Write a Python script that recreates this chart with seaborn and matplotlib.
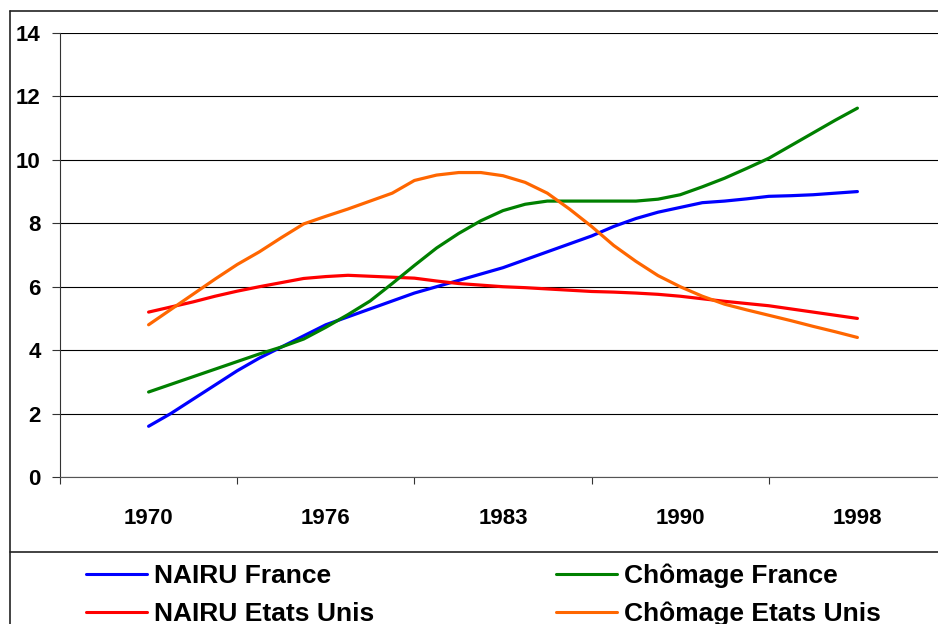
import numpy as np
import pandas as pd
import matplotlib
matplotlib.use('Agg')
import matplotlib.pyplot as plt
from matplotlib.lines import Line2D
import seaborn as sns

# category labels, one every 8 points (33 points from 1970 to 1998)
years = ['1970', '1976', '1983', '1990', '1998']
label_step = 8

nairu_france = [1.6, 2.0, 2.45, 2.9, 3.35, 3.75, 4.1, 4.45, 4.8, 5.05, 5.3,
                5.55, 5.8, 6.0, 6.2, 6.4, 6.6, 6.85, 7.1, 7.35, 7.6, 7.9,
                8.15, 8.35, 8.5, 8.65, 8.7, 8.77, 8.85, 8.87, 8.9, 8.95, 9.0]
chomage_france = [2.68, 2.92, 3.16, 3.4, 3.64, 3.88, 4.1, 4.35, 4.72, 5.12, 5.55,
                  6.1, 6.67, 7.22, 7.68, 8.08, 8.4, 8.6, 8.7, 8.7, 8.7, 8.7,
                  8.7, 8.76, 8.9, 9.15, 9.42, 9.73, 10.05, 10.45, 10.85, 11.25, 11.63]
nairu_eu = [5.2, 5.36, 5.52, 5.7, 5.86, 6.0, 6.13, 6.26, 6.32, 6.36, 6.33,
            6.3, 6.27, 6.18, 6.1, 6.05, 6.0, 5.97, 5.93, 5.89, 5.85, 5.83,
            5.8, 5.76, 5.7, 5.62, 5.54, 5.47, 5.4, 5.3, 5.2, 5.1, 5.0]
chomage_eu = [4.8, 5.28, 5.76, 6.24, 6.7, 7.1, 7.55, 7.98, 8.22, 8.45, 8.7,
              8.95, 9.35, 9.52, 9.6, 9.6, 9.5, 9.29, 8.95, 8.45, 7.9, 7.3,
              6.8, 6.35, 6.0, 5.7, 5.45, 5.27, 5.1, 4.93, 4.75, 4.58, 4.4]

names = ['NAIRU France', 'NAIRU Etats Unis', 'Chômage France', 'Chômage Etats Unis']
colors = ['#0000FF', '#FF0000', '#008000', '#FF6600']

rows = []
for name, vals in zip(names, [nairu_france, nairu_eu, chomage_france, chomage_eu]):
    for i, v in enumerate(vals):
        rows.append({'idx': i, 'valeur': v, 'serie': name})
df = pd.DataFrame(rows)

sns.set_theme(style='white')
plt.rcParams['font.family'] = ['Liberation Sans', 'DejaVu Sans']
plt.rcParams['font.weight'] = 'bold'
plt.rcParams['text.color'] = 'black'

W, H = 938, 624
fig = plt.figure(figsize=(W / 100, H / 100), dpi=100)
ax = fig.add_axes([60 / W, (H - 477) / H, 886 / W, 444 / H])

sns.lineplot(data=df, x='idx', y='valeur', hue='serie', hue_order=names,
             palette=colors, linewidth=2.3, legend=False, ax=ax)

ax.set_xlim(-4, 36)
ax.set_ylim(0, 14)
ax.set_xlabel('')
ax.set_ylabel('')

# y axis
ax.set_yticks(np.arange(0, 15, 2))
ax.yaxis.grid(True, color='black', linewidth=0.8)
ax.tick_params(axis='y', which='major', direction='out', length=6, width=0.8,
               color='#333333', pad=8, labelsize=16, labelcolor='black', left=True)

# x axis: labels in the middle of each group, ticks between groups
ax.set_xticks([i * label_step for i in range(len(years))])
ax.set_xticklabels(years)
ax.set_xticks([-4 + i * label_step for i in range(len(years) + 1)], minor=True)
ax.tick_params(axis='x', which='major', length=0, pad=22, labelsize=16, labelcolor='black')
ax.tick_params(axis='x', which='minor', direction='out', length=5, width=0.8,
               color='#333333', bottom=True)
for lab in ax.get_xticklabels() + ax.get_yticklabels():
    lab.set_fontweight('bold')

for s in ['top', 'right']:
    ax.spines[s].set_visible(False)
ax.spines['left'].set_color('#333333')
ax.spines['left'].set_linewidth(0.8)
ax.spines['bottom'].set_color('#555555')
ax.spines['bottom'].set_linewidth(0.8)

# chart frame and legend separator
def px(x, y):
    return x / W, 1 - y / H

frame_kw = dict(color='#222222', linewidth=1.2, transform=fig.transFigure)
fig.add_artist(Line2D(*zip(px(10, 11), px(10, 624)), **frame_kw))
fig.add_artist(Line2D(*zip(px(10, 11), px(938, 11)), **frame_kw))
fig.add_artist(Line2D(*zip(px(10, 552), px(938, 552)), **frame_kw))

handles = [Line2D([], [], color=c, linewidth=2.2) for c in colors]
leg_kw = dict(loc='center left', frameon=False, borderpad=0, borderaxespad=0,
              handlelength=2.3, handletextpad=0.28, labelspacing=0.52,
              prop={'size': 19, 'weight': 'bold'}, labelcolor='black')
leg1 = fig.legend(handles[:2], names[:2], bbox_to_anchor=px(86, 595), **leg_kw)
leg2 = fig.legend(handles[2:], names[2:], bbox_to_anchor=px(556, 595), **leg_kw)

fig.savefig('out.png', dpi=100)
